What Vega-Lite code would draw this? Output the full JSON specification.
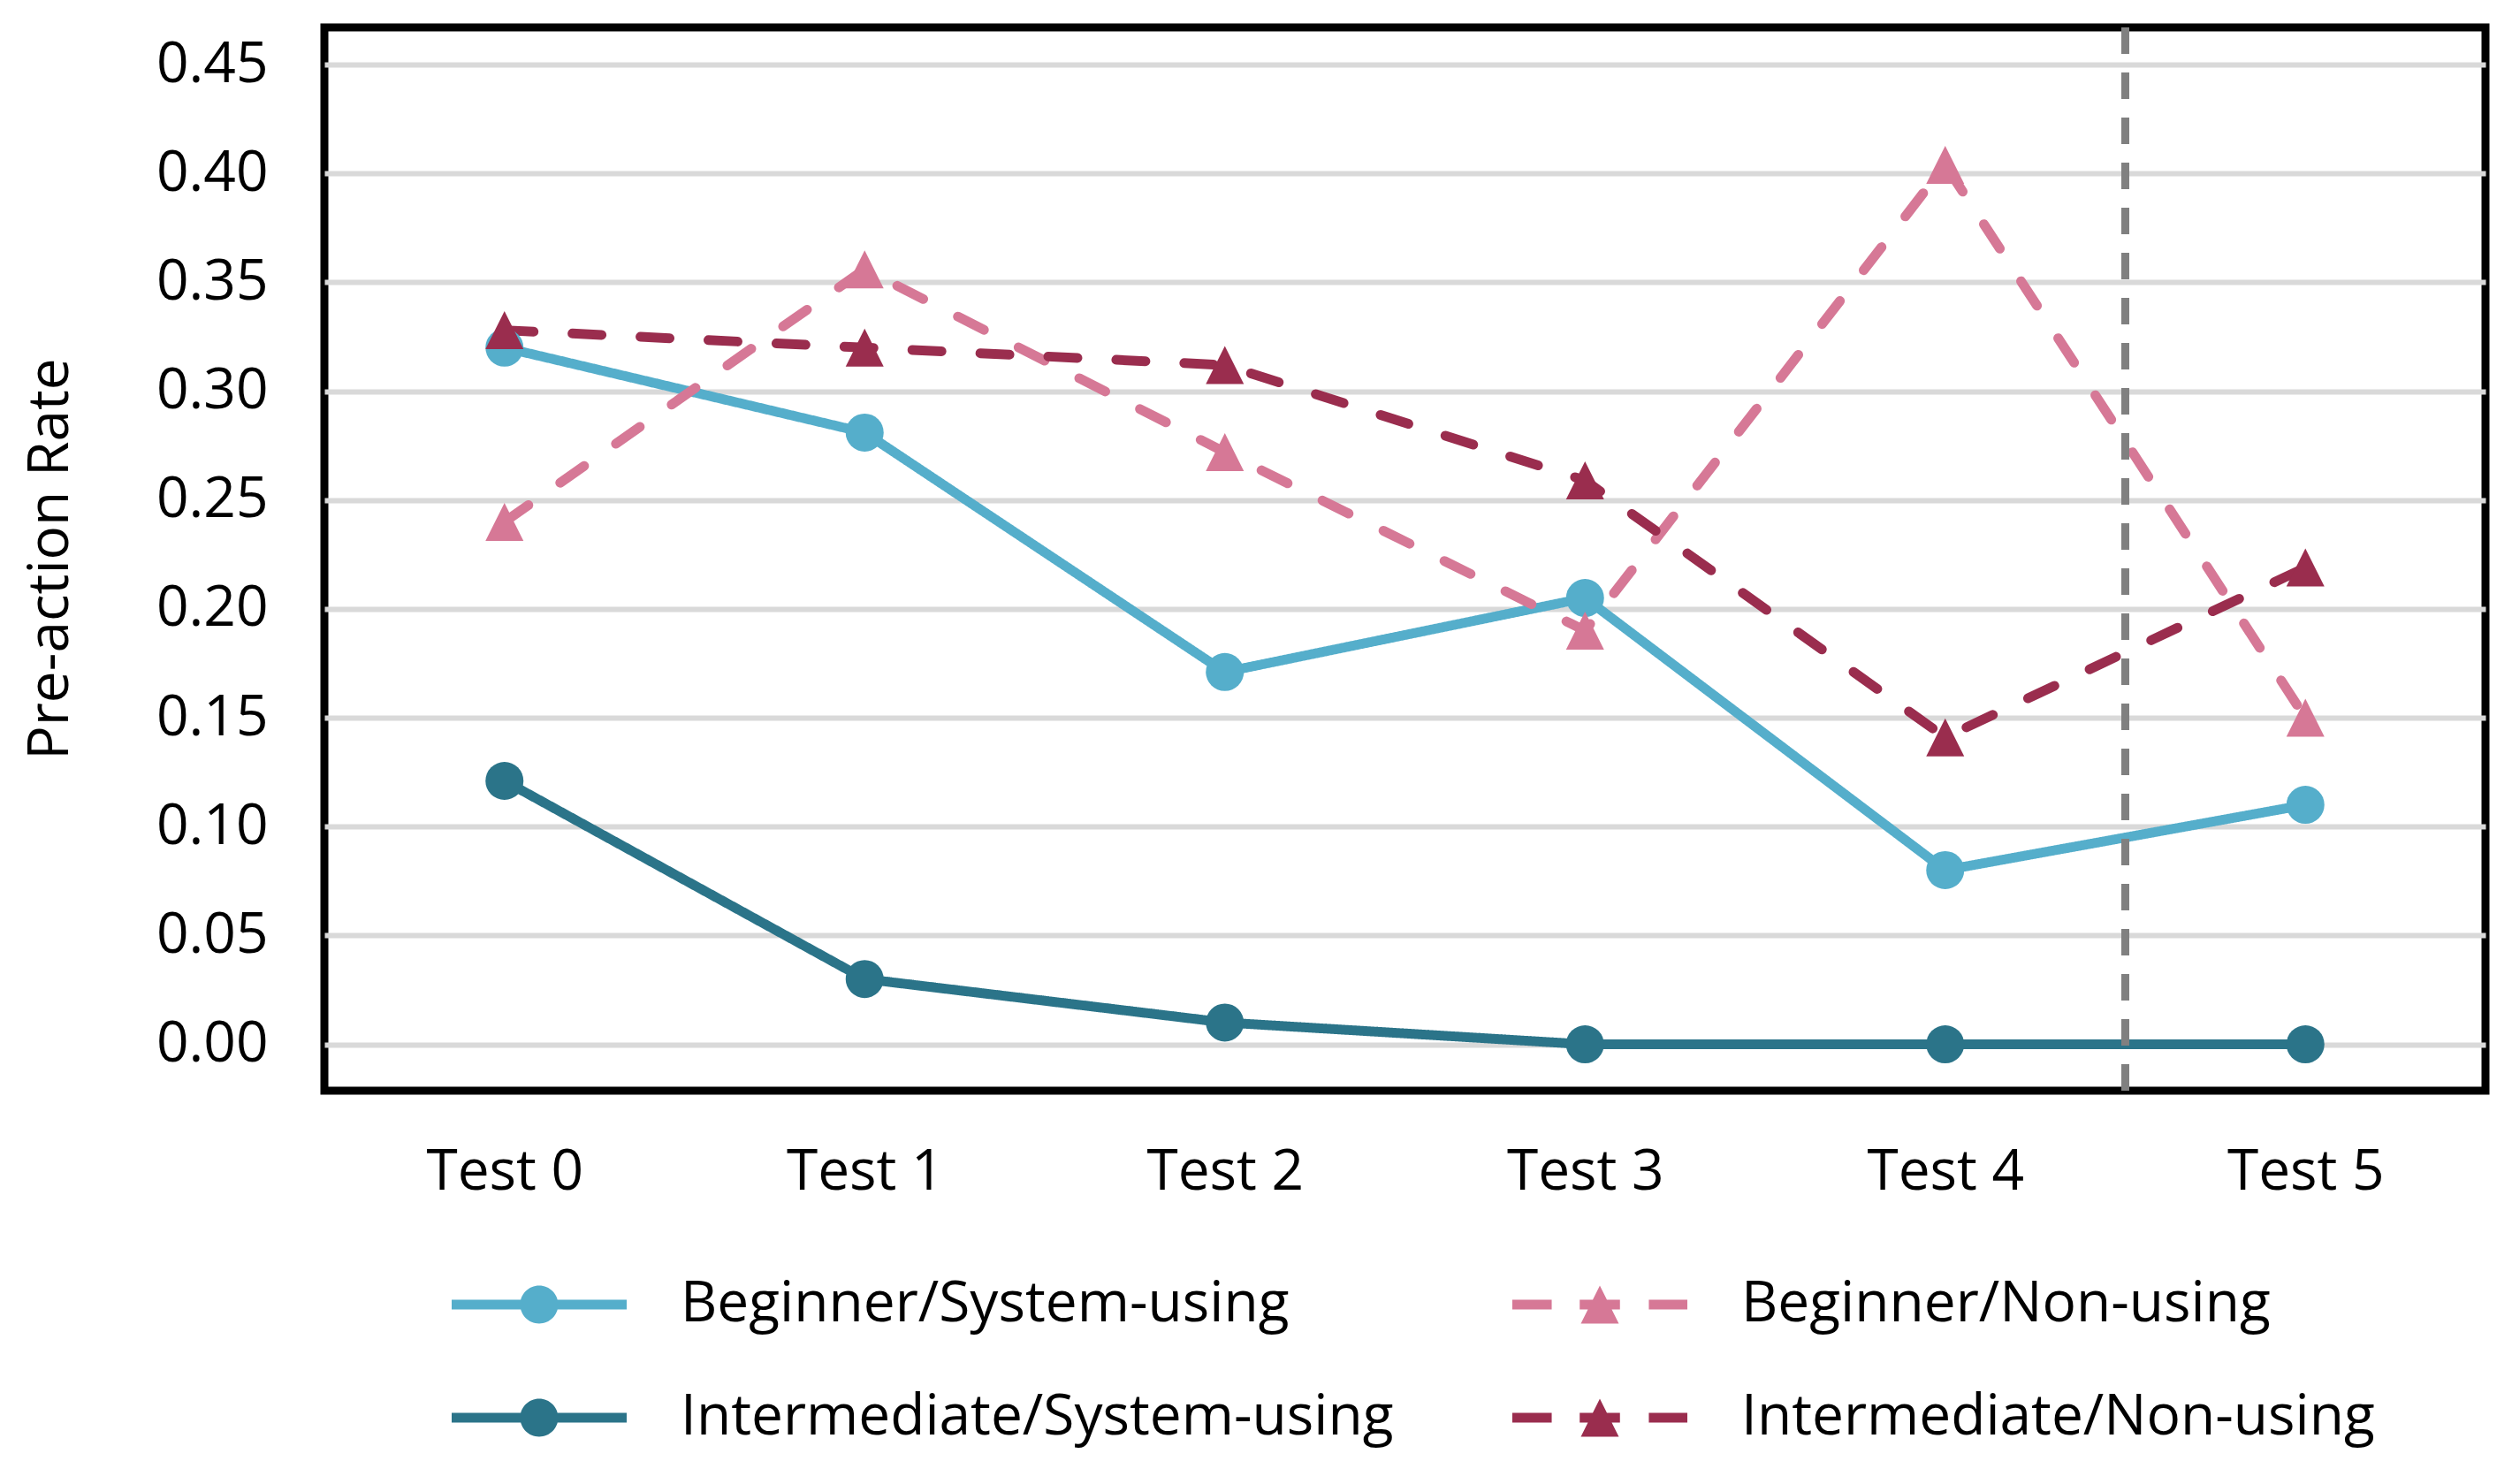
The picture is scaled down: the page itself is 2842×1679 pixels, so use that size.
{
  "$schema": "https://vega.github.io/schema/vega-lite/v6.json",
  "autosize": "none",
  "width": 2445,
  "height": 1203,
  "padding": {"left": 367, "top": 31, "right": 30, "bottom": 445},
  "background": "white",
  "config": {
    "font": "Open Sans",
    "view": {"stroke": "black", "strokeWidth": 9},
    "legend": {"padding": 0}
  },
  "data": {
    "values": [
      {"group": "Beginner/System-using", "test": 0, "rate": 0.32},
      {"group": "Beginner/System-using", "test": 1, "rate": 0.281},
      {"group": "Beginner/System-using", "test": 2, "rate": 0.171},
      {"group": "Beginner/System-using", "test": 3, "rate": 0.205},
      {"group": "Beginner/System-using", "test": 4, "rate": 0.08},
      {"group": "Beginner/System-using", "test": 5, "rate": 0.11},
      {"group": "Intermediate/System-using", "test": 0, "rate": 0.121},
      {"group": "Intermediate/System-using", "test": 1, "rate": 0.03},
      {"group": "Intermediate/System-using", "test": 2, "rate": 0.01},
      {"group": "Intermediate/System-using", "test": 3, "rate": 0.0},
      {"group": "Intermediate/System-using", "test": 4, "rate": 0.0},
      {"group": "Intermediate/System-using", "test": 5, "rate": 0.0},
      {"group": "Beginner/Non-using", "test": 0, "rate": 0.24},
      {"group": "Beginner/Non-using", "test": 1, "rate": 0.356},
      {"group": "Beginner/Non-using", "test": 2, "rate": 0.272},
      {"group": "Beginner/Non-using", "test": 3, "rate": 0.19},
      {"group": "Beginner/Non-using", "test": 4, "rate": 0.404},
      {"group": "Beginner/Non-using", "test": 5, "rate": 0.15},
      {"group": "Intermediate/Non-using", "test": 0, "rate": 0.328},
      {"group": "Intermediate/Non-using", "test": 1, "rate": 0.32},
      {"group": "Intermediate/Non-using", "test": 2, "rate": 0.312},
      {"group": "Intermediate/Non-using", "test": 3, "rate": 0.259},
      {"group": "Intermediate/Non-using", "test": 4, "rate": 0.141},
      {"group": "Intermediate/Non-using", "test": 5, "rate": 0.219}
    ]
  },
  "encoding": {
    "x": {
      "field": "test", "type": "quantitative",
      "scale": {"domain": [-0.5, 5.5], "nice": false, "zero": false},
      "axis": {
        "title": null, "values": [0, 1, 2, 3, 4, 5],
        "labelExpr": "'Test ' + datum.value",
        "domain": false, "ticks": false, "tickSize": 0, "grid": false,
        "labelFontSize": 64, "labelColor": "black", "labelBaseline": "alphabetic",
        "labelPadding": 111, "labelFlush": false, "labelOverlap": false
      }
    },
    "y": {
      "field": "rate", "type": "quantitative",
      "scale": {"domain": [-0.0213, 0.4671], "nice": false, "zero": false},
      "axis": {
        "title": "Pre-action Rate",
        "values": [0, 0.05, 0.1, 0.15, 0.2, 0.25, 0.3, 0.35, 0.4, 0.45],
        "format": ".2f",
        "domain": false, "ticks": false, "tickSize": 0,
        "grid": true, "gridColor": "#d9d9d9", "gridWidth": 6,
        "labelFontSize": 64, "labelColor": "black", "labelPadding": 64,
        "labelOverlap": false, "labelFlush": false,
        "titleFontSize": 64, "titleFontWeight": "normal", "titleColor": "black",
        "titleAngle": -90, "titleX": -291, "titleY": 601,
        "titleAlign": "center", "titleBaseline": "alphabetic"
      }
    }
  },
  "layer": [
    {
      "mark": {"type": "point", "filled": true, "opacity": 0},
      "encoding": {
        "color": {
          "field": "group", "type": "nominal",
          "scale": {
            "domain": ["Beginner/System-using", "Intermediate/System-using", "Beginner/Non-using", "Intermediate/Non-using"],
            "range": ["#55aecb", "#2b7489", "#d67896", "#9a2d4e"]
          },
          "legend": {
            "orient": "none", "legendX": 144, "legendY": 1413, "columns": 2, "title": null,
            "symbolSize": 39204, "symbolStrokeWidth": 0, "symbolOpacity": 1, "symbolOffset": 0,
            "clipHeight": 64, "rowPadding": 64, "columnPadding": 134, "labelOffset": 61,
            "labelFontSize": 64, "labelColor": "black", "labelLimit": 3000, "padding": 0
          }
        },
        "shape": {
          "field": "group", "type": "nominal",
          "scale": {
            "domain": ["Beginner/System-using", "Intermediate/System-using", "Beginner/Non-using", "Intermediate/Non-using"],
            "range": [
              "M-1,-0.056L1,-0.056L1,0.056L-1,0.056Z M0.217,0A0.217,0.217,0,1,1,-0.217,0A0.217,0.217,0,1,1,0.217,0Z",
              "M-1,-0.056L1,-0.056L1,0.056L-1,0.056Z M0.217,0A0.217,0.217,0,1,1,-0.217,0A0.217,0.217,0,1,1,0.217,0Z",
              "M-1,-0.056L-0.55,-0.056L-0.55,0.056L-1,0.056Z M-0.23,-0.056L0.23,-0.056L0.23,0.056L-0.23,0.056Z M0.56,-0.056L1,-0.056L1,0.056L0.56,0.056Z M0,-0.217L0.217,0.217L-0.217,0.217Z",
              "M-1,-0.056L-0.55,-0.056L-0.55,0.056L-1,0.056Z M-0.23,-0.056L0.23,-0.056L0.23,0.056L-0.23,0.056Z M0.56,-0.056L1,-0.056L1,0.056L0.56,0.056Z M0,-0.217L0.217,0.217L-0.217,0.217Z"
            ]
          },
          "legend": {
            "orient": "none", "legendX": 144, "legendY": 1413, "columns": 2, "title": null,
            "symbolSize": 39204, "symbolStrokeWidth": 0, "symbolOpacity": 1, "symbolOffset": 0,
            "clipHeight": 64, "rowPadding": 64, "columnPadding": 134, "labelOffset": 61,
            "labelFontSize": 64, "labelColor": "black", "labelLimit": 3000, "padding": 0
          }
        }
      }
    },
    {
      "mark": {"type": "line", "strokeWidth": 11, "strokeCap": "round", "strokeJoin": "round"},
      "encoding": {
        "stroke": {
          "field": "group", "type": "nominal",
          "scale": {
            "domain": ["Beginner/System-using", "Intermediate/System-using", "Beginner/Non-using", "Intermediate/Non-using"],
            "range": ["#55aecb", "#2b7489", "#d67896", "#9a2d4e"]
          },
          "legend": null
        },
        "strokeDash": {
          "field": "group", "type": "nominal",
          "scale": {
            "domain": ["Beginner/System-using", "Intermediate/System-using", "Beginner/Non-using", "Intermediate/Non-using"],
            "range": [[1, 0], [1, 0], [33, 44], [33, 44]]
          },
          "legend": null
        }
      }
    },
    {
      "transform": [{"filter": "indexof(datum.group, 'System') >= 0"}],
      "mark": {"type": "point", "filled": true, "opacity": 1, "size": 1849, "shape": "circle"},
      "encoding": {
        "fill": {
          "field": "group", "type": "nominal",
          "scale": {
            "domain": ["Beginner/System-using", "Intermediate/System-using", "Beginner/Non-using", "Intermediate/Non-using"],
            "range": ["#55aecb", "#2b7489", "#d67896", "#9a2d4e"]
          },
          "legend": null
        }
      }
    },
    {
      "transform": [{"filter": "indexof(datum.group, 'Non') >= 0"}],
      "mark": {"type": "point", "filled": true, "opacity": 1, "size": 1849, "shape": "M0,-1L1,1L-1,1Z"},
      "encoding": {
        "fill": {
          "field": "group", "type": "nominal",
          "scale": {
            "domain": ["Beginner/System-using", "Intermediate/System-using", "Beginner/Non-using", "Intermediate/Non-using"],
            "range": ["#55aecb", "#2b7489", "#d67896", "#9a2d4e"]
          },
          "legend": null
        }
      }
    },
    {
      "data": {"values": [{"split": 4.5}]},
      "mark": {"type": "rule", "color": "#808080", "strokeWidth": 9, "strokeDash": [30, 21]},
      "encoding": {
        "x": {"field": "split", "type": "quantitative"},
        "y": null
      }
    }
  ]
}
